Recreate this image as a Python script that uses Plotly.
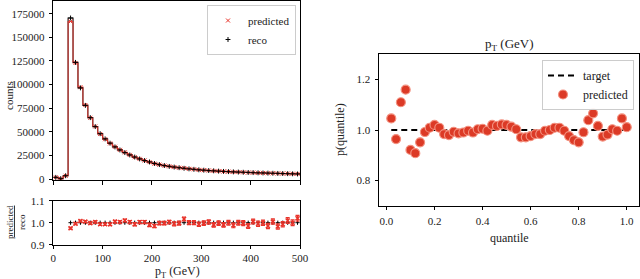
import plotly.graph_objects as go

# ---------------- data ----------------
bin_edges = list(range(0, 510, 10))
bin_centers = [e + 5 for e in bin_edges[:-1]]

reco_counts = [1800, 400, 3500, 170500, 123500, 96500, 78000, 65000, 55500, 48000,
               42500, 38000, 34000, 30800, 28000, 25500, 23300, 21300, 19600, 18100,
               16500, 15300, 14300, 13400, 12700, 12000, 11400, 10800, 10300, 9800,
               9400, 9000, 8700, 8400, 8100, 7850, 7600, 7400, 7200, 7000,
               6800, 6600, 6450, 6300, 6150, 6000, 5850, 5700, 5550, 5400]

ratio_centers = bin_centers[3:]
ratio_values = [0.975, 0.995, 1.008, 1.005, 0.998, 1.003, 0.993, 0.993, 0.993, 1.005,
                1.003, 1.010, 1.003, 0.993, 1.003, 1.003, 0.990, 0.985, 0.998, 0.998,
                1.003, 0.995, 0.998, 1.017, 1.000, 1.000, 0.993, 0.998, 1.003, 0.990,
                0.998, 0.990, 1.000, 0.988, 1.000, 0.998, 0.985, 1.005, 0.995, 1.000,
                0.985, 1.005, 0.983, 0.993, 1.010, 1.000, 1.020]
ratio_errors = [0.004, 0.004, 0.004, 0.004, 0.005, 0.005, 0.005, 0.005, 0.006, 0.006,
                0.006, 0.006, 0.007, 0.007, 0.007, 0.007, 0.008, 0.008, 0.008, 0.008,
                0.008, 0.009, 0.009, 0.009, 0.009, 0.009, 0.010, 0.010, 0.010, 0.010,
                0.010, 0.010, 0.011, 0.011, 0.011, 0.011, 0.011, 0.011, 0.012, 0.012,
                0.012, 0.012, 0.012, 0.012, 0.013, 0.013, 0.013]
pred_counts = reco_counts[:3] + [r * v for r, v in zip(reco_counts[3:], ratio_values)]
pred_counts[3] = 166800

quantiles = [round(0.02 * i, 2) for i in range(1, 51)]
quantile_p = [1.046, 0.964, 1.110, 1.160, 0.921, 0.908, 0.951, 0.992, 1.009, 1.020,
              1.009, 0.984, 0.980, 0.993, 0.987, 0.990, 0.997, 0.990, 1.003, 1.005,
              0.997, 1.020, 1.016, 1.022, 1.020, 1.013, 1.003, 0.971, 0.971, 0.976,
              0.984, 0.984, 0.997, 1.000, 1.009, 1.009, 0.997, 0.976, 0.960, 0.951,
              0.991, 1.039, 1.066, 1.016, 0.974, 0.982, 1.003, 0.997, 1.046, 1.011]
target_x = [0.02, 1.0]
target_y = [1.0, 1.0]

y_ticks_counts = [0, 25000, 50000, 75000, 100000, 125000, 150000, 175000]
x_ticks_pt = [0, 100, 200, 300, 400, 500]
y_ticks_ratio = [0.9, 1.0, 1.1]
y_ticks_q = [0.8, 1.0, 1.2]
x_ticks_q = [0.0, 0.2, 0.4, 0.6, 0.8, 1.0]

# ---------------- figure ----------------
W, H = 640, 279
FONT = "Liberation Serif"
RED = "#e8332a"

def px_x(p):
    return p / W

def px_y(p):
    return 1 - p / H

fig = go.Figure()

# top histogram
fig.add_trace(go.Scatter(x=bin_edges, y=reco_counts + [reco_counts[-1]], mode="lines",
                         line=dict(color="#222222", width=1.2, shape="hv"),
                         showlegend=False, xaxis="x", yaxis="y", hoverinfo="skip"))
fig.add_trace(go.Scatter(x=bin_edges, y=pred_counts + [pred_counts[-1]], mode="lines",
                         line=dict(color=RED, width=1.1, shape="hv"), opacity=0.85,
                         showlegend=False, xaxis="x", yaxis="y", hoverinfo="skip"))
fig.add_trace(go.Scatter(x=bin_centers, y=pred_counts, mode="markers", name="predicted",
                         marker=dict(symbol="x-thin", size=4, color=RED,
                                     line=dict(color=RED, width=1)),
                         xaxis="x", yaxis="y", legend="legend"))
fig.add_trace(go.Scatter(x=bin_centers, y=reco_counts, mode="markers", name="reco",
                         marker=dict(symbol="cross-thin", size=3.5, color="black",
                                     line=dict(color="black", width=1)),
                         xaxis="x", yaxis="y", legend="legend"))

# ratio
fig.add_trace(go.Scatter(x=ratio_centers, y=[1.0] * len(ratio_centers), mode="markers",
                         marker=dict(symbol="cross-thin", size=3, color="black",
                                     line=dict(color="black", width=1)),
                         showlegend=False, xaxis="x2", yaxis="y2"))
fig.add_trace(go.Scatter(x=ratio_centers, y=ratio_values, mode="markers",
                         marker=dict(symbol="x-thin", size=4, color=RED,
                                     line=dict(color=RED, width=1.5)),
                         error_y=dict(type="data", array=ratio_errors, color=RED,
                                      thickness=1.2, width=2),
                         showlegend=False, xaxis="x2", yaxis="y2"))

# quantile panel
fig.add_trace(go.Scatter(x=target_x, y=target_y, mode="lines", name="target",
                         line=dict(color="black", width=2, dash="6px,4px"),
                         xaxis="x3", yaxis="y3", legend="legend2"))
fig.add_trace(go.Scatter(x=quantiles, y=quantile_p, mode="markers", name="predicted",
                         marker=dict(symbol="circle", size=9, color="#dc3a26",
                                     line=dict(color="#f3907f", width=1.2)),
                         xaxis="x3", yaxis="y3", legend="legend2"))

axis_common = dict(showline=True, linecolor="black", linewidth=1, mirror=True,
                   ticks="outside", ticklen=3.5, tickwidth=1, tickcolor="black",
                   showgrid=False, zeroline=False, automargin=False,
                   tickfont=dict(family=FONT, size=11, color="#222"))

def label(text, x, y, size=12, angle=0):
    return dict(text=text, x=px_x(x), y=px_y(y), xref="paper", yref="paper",
                xanchor="center", yanchor="middle", textangle=angle,
                showarrow=False, font=dict(family=FONT, size=size, color="#222"))

fig.update_layout(
    template="none",
    width=W, height=H,
    margin=dict(l=0, r=0, t=0, b=0, autoexpand=False),
    paper_bgcolor="white", plot_bgcolor="white",
    font=dict(family=FONT, size=11, color="#222"),
    xaxis=dict(domain=[px_x(53.3), px_x(300)], range=[0, 500], anchor="y",
               tickvals=x_ticks_pt, showticklabels=False, **axis_common),
    yaxis=dict(domain=[px_y(180), px_y(0.5)], range=[-1000, 189000], anchor="x",
               tickvals=y_ticks_counts, ticktext=[str(v) for v in y_ticks_counts],
               ticklabelstandoff=2, **axis_common),
    xaxis2=dict(domain=[px_x(53.3), px_x(300)], range=[0, 500], anchor="y2",
                tickvals=x_ticks_pt, ticklabelstandoff=0, **axis_common),
    yaxis2=dict(domain=[px_y(244.7), px_y(200.7)], range=[0.9, 1.1], anchor="x2",
                tickvals=y_ticks_ratio, ticktext=["0.9", "1.0", "1.1"],
                ticklabelstandoff=2, **axis_common),
    xaxis3=dict(domain=[px_x(379), px_x(639)], range=[-0.031, 1.051], anchor="y3",
                tickvals=x_ticks_q, ticktext=["0.0", "0.2", "0.4", "0.6", "0.8", "1.0"],
                ticklabelstandoff=2, **axis_common),
    yaxis3=dict(domain=[px_y(205.7), px_y(54.3)], range=[0.7, 1.3], anchor="x3",
                tickvals=y_ticks_q, ticktext=["0.8", "1.0", "1.2"],
                ticklabelstandoff=2, **axis_common),
    legend=dict(x=px_x(296), y=px_y(5), xanchor="right", yanchor="top",
                bgcolor="rgba(255,255,255,0.9)", bordercolor="#cccccc", borderwidth=1,
                font=dict(family=FONT, size=11, color="#222"), itemwidth=30,
                tracegroupgap=0),
    legend2=dict(x=px_x(634), y=px_y(60), xanchor="right", yanchor="top",
                 bgcolor="rgba(255,255,255,0.9)", bordercolor="#cccccc", borderwidth=1,
                 font=dict(family=FONT, size=12, color="#222"), itemwidth=30,
                 tracegroupgap=0),
    annotations=[
        label("counts", 9, 96, size=11, angle=-90),
        label("<u>predicted</u><br>reco", 16, 222, size=9, angle=-90),
        label("p<sub>T</sub> (GeV)", 177, 272, size=12),
        label("p<sub>T</sub> (GeV)", 509, 45, size=13),
        label("quantile", 509, 238, size=12),
        label("p(quantile)", 340, 130, size=12, angle=-90),
    ],
)

fig.write_html("out.html",
               config={"displayModeBar": False, "staticPlot": True},
               post_script="document.body.style.margin='0';document.body.style.padding='0';"
                           "document.body.style.overflow='hidden';")
